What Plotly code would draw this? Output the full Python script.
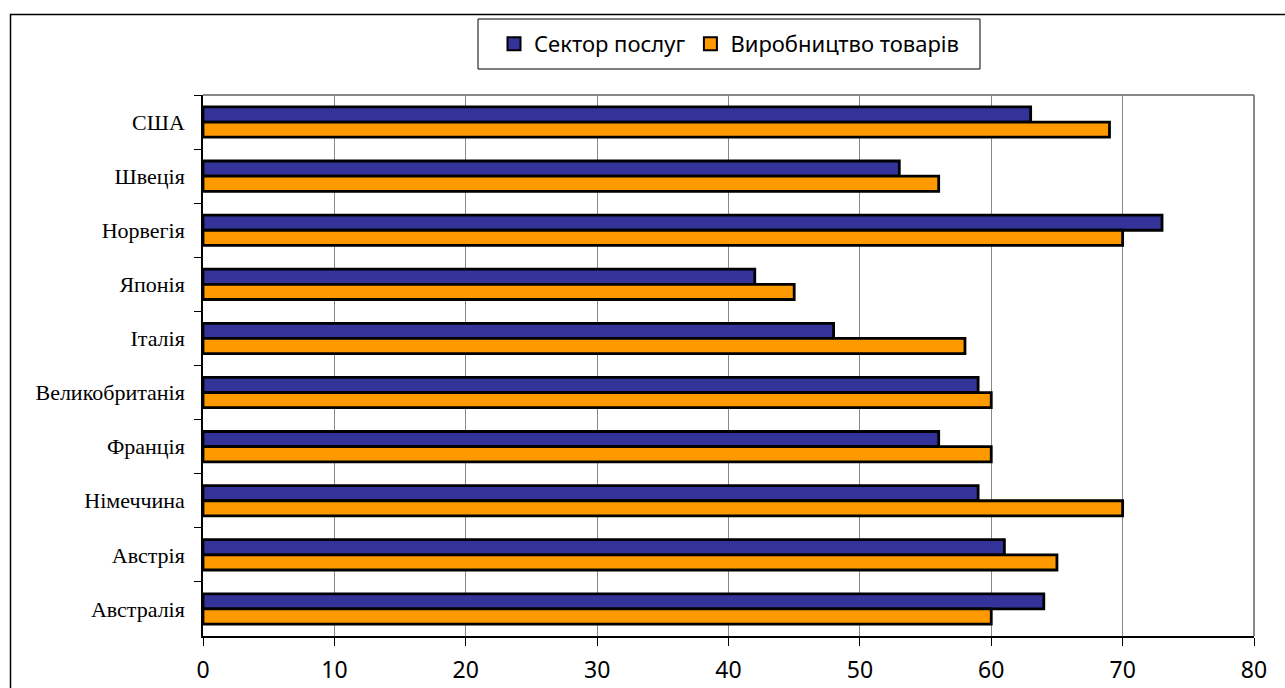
import plotly.graph_objects as go

# Countries, top to bottom
countries = ["США", "Швеція", "Норвегія", "Японія", "Італія",
             "Великобританія", "Франція", "Німеччина", "Австрія", "Австралія"]
services = [63, 53, 73, 42, 48, 59, 56, 59, 61, 64]
goods = [69, 56, 70, 45, 58, 60, 60, 70, 65, 60]
x_ticks = [0, 10, 20, 30, 40, 50, 60, 70, 80]

series_names = ["Сектор послуг", "Виробництво товарів"]
series_colors = ["#333399", "#FF9900"]

W, H = 1285, 688
L, R, T, B = 203, 31, 95, 52
pw, ph = W - L - R, H - T - B


def px_x(x):
    return (x - L) / pw


def px_y(y):
    return (H - B - y) / ph


fig = go.Figure()
for name, vals, col in zip(series_names, [services, goods], series_colors):
    fig.add_trace(go.Bar(
        y=countries, x=vals, orientation="h", name=name, showlegend=False,
        marker=dict(color=col, line=dict(color="#000000", width=2.8)),
    ))

# legend entries with square swatches
for name, col in zip(series_names, series_colors):
    fig.add_trace(go.Scatter(
        x=[None], y=[None], mode="markers", name=name,
        marker=dict(symbol="square", size=13, color=col,
                    line=dict(color="#000000", width=2)),
    ))

sans = "Noto Sans, Open Sans, sans-serif"

fig.update_layout(
    width=W, height=H,
    margin=dict(l=L, r=R, t=T, b=B, autoexpand=False),
    paper_bgcolor="white", plot_bgcolor="white",
    barmode="group", bargap=0.44, bargroupgap=0,
    showlegend=True,
    legend=dict(
        orientation="h", x=px_x(729), xanchor="center",
        y=px_y(44), yanchor="middle",
        font=dict(family=sans, size=22, color="#000"),
        borderwidth=0, bgcolor="rgba(0,0,0,0)",
        itemwidth=30, itemsizing="trace",
    ),
    xaxis=dict(
        range=[0, 80], tickvals=x_ticks, ticks="outside", ticklen=8,
        tickcolor="#000", showline=True, linecolor="#000", linewidth=1.5,
        showgrid=True, gridcolor="#888888", gridwidth=1, zeroline=False,
        tickfont=dict(family=sans, size=23, color="#000"),
        ticklabelstandoff=5, automargin=False,
    ),
    yaxis=dict(
        autorange="reversed", categoryorder="array", categoryarray=countries,
        tickson="boundaries", ticks="outside", ticklen=7, tickcolor="#000",
        showline=True, linecolor="#000", linewidth=1.5, showgrid=False,
        tickfont=dict(family="Liberation Serif, Times New Roman, serif", size=22, color="#000"),
        ticklabelstandoff=12, automargin=False,
    ),
    shapes=[
        # grey frame on top and right of the plot area
        dict(type="line", xref="paper", yref="paper", x0=0, x1=1, y0=1, y1=1,
             line=dict(color="#888888", width=2)),
        dict(type="line", xref="paper", yref="paper", x0=1, x1=1, y0=0, y1=1,
             line=dict(color="#888888", width=2)),
        # outer chart border
        dict(type="rect", xref="paper", yref="paper",
             x0=px_x(10.5), x1=px_x(1300), y0=px_y(14.5), y1=px_y(720),
             line=dict(color="#000000", width=1.5), layer="below"),
        # legend frame
        dict(type="rect", xref="paper", yref="paper",
             x0=px_x(478), x1=px_x(980), y0=px_y(19), y1=px_y(69),
             line=dict(color="#000000", width=1), layer="below"),
    ],
)

fig.write_html("out.html")
